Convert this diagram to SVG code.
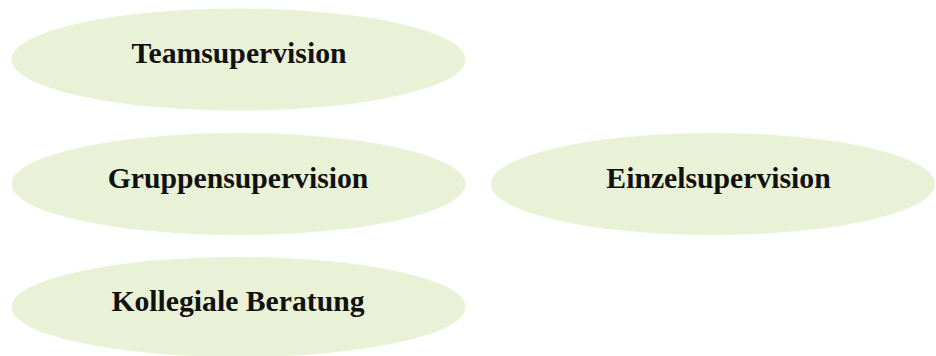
<svg xmlns="http://www.w3.org/2000/svg" width="936" height="356" viewBox="0 0 936 356">
<style>
.node ellipse { fill: #e9f2d7; stroke: none; }
.node text { font-family: "Liberation Serif", "Times New Roman", serif; font-weight: bold; font-size: 29.7px; fill: #111111; text-anchor: middle; }
</style>
<rect width="936" height="356" fill="#ffffff"/>
<g id="connectors"></g>
<g id="teamsupervision" class="node">
<ellipse cx="238.5" cy="59.5" rx="227" ry="51"/>
<text x="239" y="63">Teamsupervision</text>
</g>
<g id="gruppensupervision" class="node">
<ellipse cx="238.5" cy="184" rx="227" ry="51"/>
<text x="238" y="188">Gruppensupervision</text>
</g>
<g id="einzelsupervision" class="node">
<ellipse cx="713" cy="184" rx="222" ry="51"/>
<text x="718.5" y="188">Einzelsupervision</text>
</g>
<g id="kollegiale-beratung" class="node">
<ellipse cx="238.5" cy="307" rx="227" ry="50"/>
<text x="238" y="311">Kollegiale Beratung</text>
</g>
</svg>
